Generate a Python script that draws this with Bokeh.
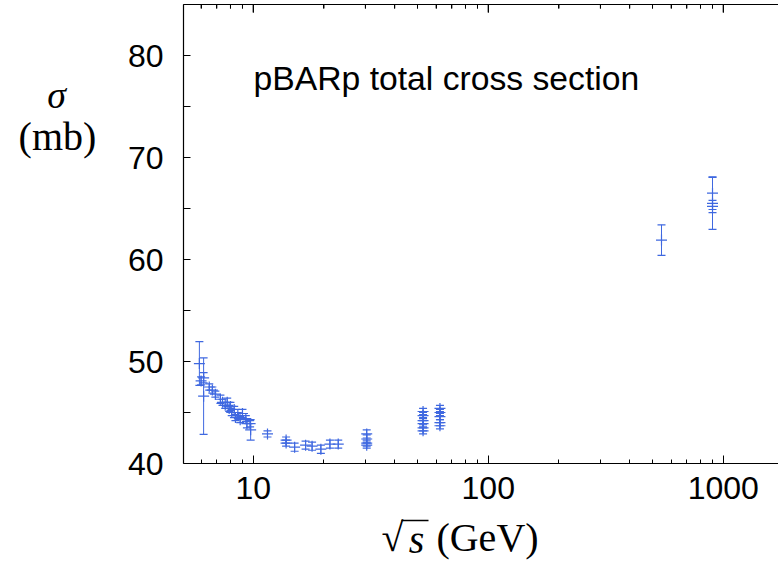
import math
from bokeh.plotting import figure
from bokeh.layouts import column, row
from bokeh.models import (Range1d, FixedTicker, LogAxis, Whisker,
                          ColumnDataSource, TeeHead)
from bokeh.embed import file_html
from bokeh.resources import INLINE
from bokeh.core.properties import value

# ---- data ----
sqrt_s = [5.9, 6.15, 6.0, 6.15, 6.5, 6.7, 6.9, 7.25, 7.4, 7.6, 7.75, 7.9, 8.0,
          8.1, 8.3, 8.4, 8.6, 8.8, 9.0, 9.3, 9.4, 9.75, 9.7,
          11.5, 13.8, 13.8, 15.0, 16.7, 17.8, 19.4, 21.2, 23.0,
          30.4, 30.4, 30.4, 30.4,
          52.8, 52.8, 52.8, 52.8, 52.8, 52.8,
          62.3, 62.3, 62.3, 62.3, 62.3,
          546, 900, 900, 900]
sigma = [49.8, 46.6, 48.1, 48.4, 47.5, 47.2, 46.8, 46.3, 46.0, 45.7, 46.0, 45.4, 45.6,
         45.0, 45.3, 44.5, 44.7, 44.3, 44.9, 44.4, 43.9, 43.3, 43.9,
         42.9, 42.3, 42.0, 41.6, 41.8, 41.7, 41.4, 41.9, 41.9,
         42.9, 42.4, 42.0, 41.8,
         45.1, 44.7, 44.2, 43.9, 43.5, 43.2,
         45.4, 45.0, 44.6, 44.0, 43.7,
         61.9, 65.5, 65.2, 66.5]
sigma_err = [2.15, 3.75, 0.4, 0.5, 0.3, 0.3, 0.3, 0.4, 0.3, 0.3, 0.4, 0.3, 0.4,
             0.3, 0.3, 0.3, 0.3, 0.3, 0.4, 0.3, 0.4, 1.0, 0.3,
             0.3, 0.3, 0.3, 0.4, 0.4, 0.4, 0.4, 0.4, 0.4,
             0.4, 0.4, 0.3, 0.3,
             0.3, 0.3, 0.3, 0.3, 0.3, 0.3,
             0.3, 0.3, 0.3, 0.3, 0.3,
             1.5, 2.55, 0.6, 1.6]

title_text = "pBARp total cross section"
y_label_top = "\u03c3"
y_label_bottom = "(mb)"
x_label_root = "\u221a"
x_label_var = "s"
x_label_unit = "(GeV)"
x_tick_values = [10, 100, 1000]
x_tick_labels = ["10", "100", "1000"]
x_minor_values = [6, 7, 8, 9, 20, 30, 40, 50, 60, 70, 80, 90,
                  200, 300, 400, 500, 600, 700, 800, 900]
y_tick_values = [40, 50, 60, 70, 80]
y_minor_values = [45, 55, 65, 75, 85]

BLUE = "#3f68e0"
SANS = "Liberation Sans"
SERIF = "Liberation Serif"

W, H = 778, 562
LEFT_W = 110          # strip holding the y label
MAIN_H = 512          # main plot height; strip below holds the x label
X0, X1, Y0, Y1 = 5.05, 1718, 40, 85

lower = [s - e for s, e in zip(sigma, sigma_err)]
upper = [s + e for s, e in zip(sigma, sigma_err)]
src = ColumnDataSource(dict(x=sqrt_s, y=sigma, lower=lower, upper=upper))

p = figure(width=W - LEFT_W, height=MAIN_H, x_axis_type="log",
           x_range=Range1d(X0, X1), y_range=Range1d(Y0, Y1),
           output_backend="svg", toolbar_location=None,
           min_border_left=183 - LEFT_W, min_border_right=0,
           min_border_top=4, min_border_bottom=MAIN_H - 463)
p.grid.visible = False
p.outline_line_color = None
p.background_fill_color = "white"
p.border_fill_color = "white"

# axes
p.xaxis.ticker = FixedTicker(ticks=x_tick_values, minor_ticks=x_minor_values)
p.xaxis.major_label_overrides = {v: l for v, l in zip(x_tick_values, x_tick_labels)}
p.yaxis.ticker = FixedTicker(ticks=y_tick_values, minor_ticks=y_minor_values)

for ax in (p.xaxis[0], p.yaxis[0]):
    ax.axis_line_color = "black"
    ax.axis_line_width = 1.2
    ax.major_tick_in = 8
    ax.major_tick_out = 0
    ax.minor_tick_in = 4
    ax.minor_tick_out = 0
    ax.major_label_text_font = SANS
    ax.major_label_text_font_size = "32px"
    ax.major_label_text_color = "black"
p.xaxis.major_label_standoff = 13
p.yaxis.major_label_standoff = 20
p.yaxis.major_tick_in = 7
p.yaxis.minor_tick_in = 7

top = LogAxis(ticker=FixedTicker(ticks=x_tick_values, minor_ticks=x_minor_values),
              major_label_text_font_size="1px", major_label_text_alpha=0,
              major_label_standoff=0, axis_line_color="black", axis_line_width=1.2,
              major_tick_in=8, major_tick_out=0, minor_tick_in=4, minor_tick_out=0)
p.add_layout(top, "above")
# mirrored tick marks along the top edge (gnuplot style)
p.ray(x=x_tick_values, y=[Y1] * len(x_tick_values), length=8, length_units="screen",
      angle=-math.pi / 2, line_color="black", line_width=1.2)
p.ray(x=x_minor_values, y=[Y1] * len(x_minor_values), length=4, length_units="screen",
      angle=-math.pi / 2, line_color="black", line_width=1)

# error bars + points
w = Whisker(source=src, base="x", lower="lower", upper="upper", dimension="height",
            line_color=BLUE, line_width=1,
            lower_head=TeeHead(size=8, line_color=BLUE, line_width=1.2),
            upper_head=TeeHead(size=8, line_color=BLUE, line_width=1.2))
p.add_layout(w)
p.scatter("x", "y", source=src, marker="cross", size=11, line_color=BLUE, line_width=1.2)

# title text inside frame
p.text(x=[10.03], y=[77.8], text=[title_text], text_font=value(SANS),
       text_font_size="33.7px", text_color="black", text_align="left",
       text_baseline="alphabetic")

# ---- side strips carrying the axis titles (pixel coordinate figures) ----
def strip(width, height):
    f = figure(width=width, height=height, x_range=Range1d(0, width),
               y_range=Range1d(0, height), output_backend="svg",
               toolbar_location=None, min_border=0)
    f.axis.visible = False
    f.grid.visible = False
    f.outline_line_color = None
    f.border_fill_color = "white"
    return f

left = strip(LEFT_W, MAIN_H)
left.text(x=[56], y=[MAIN_H - 101], text=[y_label_top], text_font=value(SERIF),
          text_font_size="38px", text_font_style="italic", text_align="center",
          text_baseline="middle", text_color="black")
left.text(x=[57], y=[MAIN_H - 147], text=[y_label_bottom], text_font=value(SERIF),
          text_font_size="40px", text_align="center", text_baseline="middle",
          text_color="black")

BOT_H = H - MAIN_H
bottom = strip(W, BOT_H)
bottom.text(x=[392], y=[H - 537], text=[x_label_root], text_font=value(SERIF),
            text_font_size="40px", text_align="center", text_baseline="middle",
            text_color="black")
bottom.segment(x0=[401], y0=[H - 520], x1=[428], y1=[H - 520],
               line_color="black", line_width=1.5)
bottom.text(x=[416], y=[H - 539], text=[x_label_var], text_font=value(SERIF),
            text_font_size="40px", text_font_style="italic", text_align="center",
            text_baseline="middle", text_color="black")
bottom.text(x=[487], y=[H - 537], text=[x_label_unit], text_font=value(SERIF),
            text_font_size="40px", text_align="center", text_baseline="middle",
            text_color="black")

layout = column(row(left, p, spacing=0), bottom, spacing=0)
open("out.html", "w").write(file_html(layout, INLINE))
